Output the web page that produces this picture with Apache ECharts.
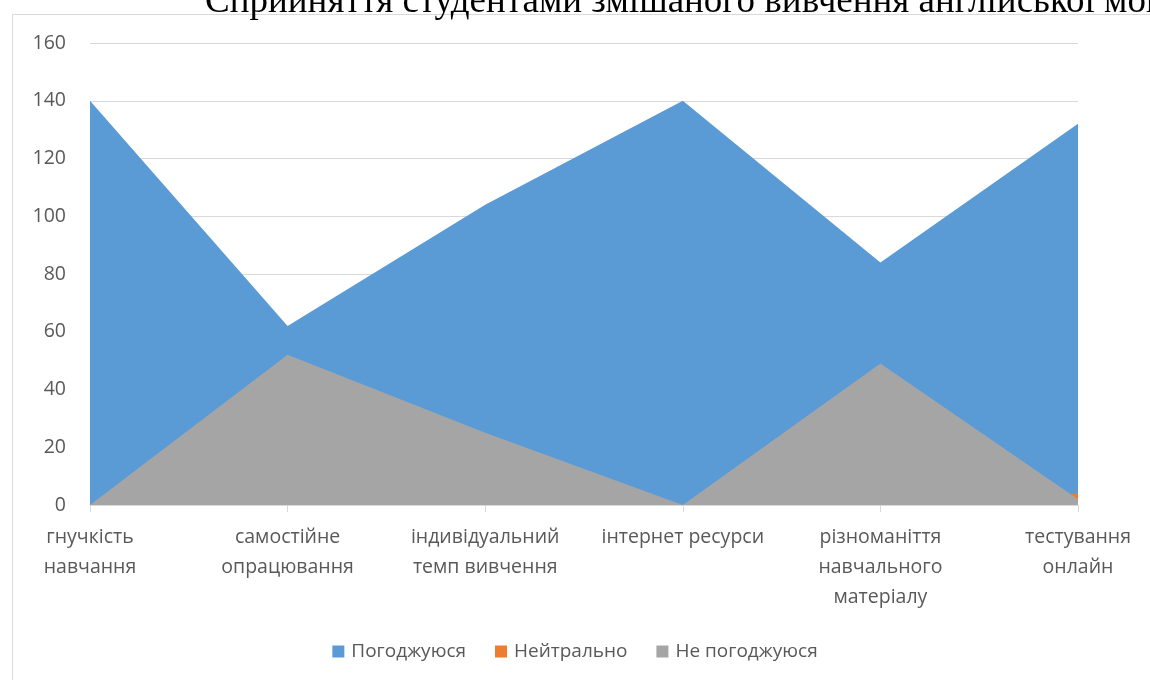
<!DOCTYPE html>
<html><head><meta charset="utf-8">
<script src="https://cdn.jsdelivr.net/npm/echarts@6/dist/echarts.min.js"></script>
<style>html,body{margin:0;padding:0;background:#fff}#c{width:1150px;height:680px}</style>
</head><body><div id="c"></div>
<script>
const categories = ["гнучкість\nнавчання", "самостійне\nопрацювання", "індивідуальний\nтемп вивчення", "інтернет ресурси", "різноманіття\nнавчального\nматеріалу", "тестування\nонлайн"];
const agree = [140, 62, 104, 140, 84, 132];
const neutral = [0, 0, 0, 0, 0, 4];
const disagree = [0, 52, 25, 0, 49, 2];
const seriesNames = ["Погоджуюся", "Нейтрально", "Не погоджуюся"];
const yTicks = [0, 20, 40, 60, 80, 100, 120, 140, 160];
const titleText = "Сприйняття студентами змішаного вивчення англійської мови";

const chart = echarts.init(document.getElementById('c'), null, {renderer: 'canvas'});
const font = "'Open Sans', 'Noto Sans', sans-serif";
function area(name, data, color) {
  return {name, type: 'line', data, symbol: 'none', lineStyle: {width: 0}, itemStyle: {color},
    areaStyle: {color, opacity: 1}, silent: true};
}
chart.setOption({
  animation: false,
  title: {text: titleText, left: 200, top: -21,
    textStyle: {fontFamily: "'Liberation Serif', 'Times New Roman', serif", fontSize: 37, fontWeight: 'normal', color: '#000'}},
  graphic: [{type: 'rect', shape: {x: 12.5, y: 14.5, width: 1200, height: 700},
    style: {fill: 'none', stroke: '#d9d9d9', lineWidth: 1}}],
  grid: {left: 90, right: 72, top: 43, bottom: 175},
  legend: {bottom: 14, left: 'center', itemWidth: 12, itemHeight: 12, itemGap: 29, icon: 'rect',
    textStyle: {fontFamily: font, fontSize: 19, color: '#595959', padding: [0, 0, 0, 2]},
    data: seriesNames},
  xAxis: {type: 'category', data: categories, boundaryGap: false,
    axisLine: {lineStyle: {color: '#d9d9d9'}},
    axisTick: {show: true, lineStyle: {color: '#d9d9d9'}, length: 7},
    axisLabel: {interval: 0, fontFamily: font, fontSize: 19.5, color: '#595959', lineHeight: 30, margin: 17},
    splitLine: {show: false}},
  yAxis: {type: 'value', min: 0, max: 160, interval: 20,
    axisLine: {show: false}, axisTick: {show: false},
    axisLabel: {fontFamily: font, fontSize: 19.5, color: '#595959', margin: 24,
      formatter: v => yTicks.includes(v) ? String(v) : ''},
    splitLine: {lineStyle: {color: '#d9d9d9'}}},
  series: [area(seriesNames[0], agree, '#5b9bd5'), area(seriesNames[1], neutral, '#ed7d31'), area(seriesNames[2], disagree, '#a5a5a5')]
});
</script></body></html>
